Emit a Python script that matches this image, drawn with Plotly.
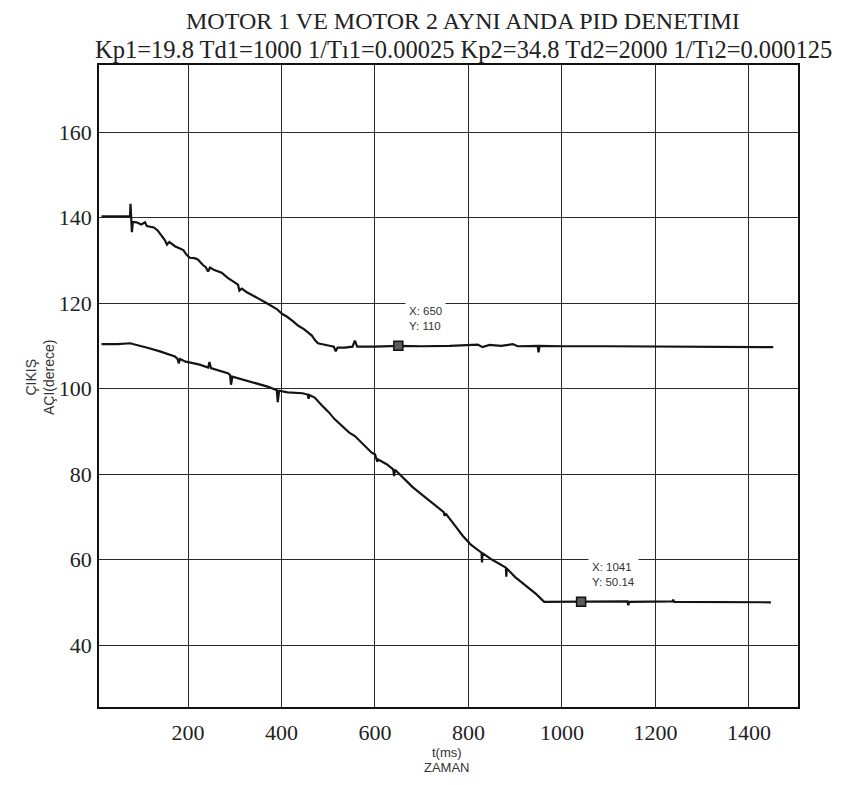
import plotly.graph_objects as go

# ---- data ----
motor1_t = [15, 40, 70, 76, 77, 78, 80, 82, 90, 100, 108, 112, 127, 135, 144, 150, 155, 160,
            172, 182, 190, 197, 204, 214, 221, 232, 238, 243, 247, 255, 272, 285, 298, 307,
            310, 315, 325, 336, 350, 365, 379, 390, 401, 412, 425, 436, 448, 458, 465, 472,
            478, 490, 500, 512, 516, 520, 535, 552, 557, 562, 600, 650, 700, 760, 820, 830,
            845, 870, 895, 905, 948, 950, 952, 1000, 1100, 1200, 1300, 1400, 1452]
motor1_y = [140.3, 140.3, 140.3, 140.3, 143.2, 139.8, 136.6, 139.0, 138.9, 138.4, 138.9, 138.0,
            137.7, 137.0, 135.7, 134.8, 133.7, 134.3, 133.3, 132.8, 132.4, 131.3, 130.6, 130.5,
            130.2, 128.9, 128.4, 127.4, 128.3, 127.8, 127.1, 125.9, 125.0, 124.3, 122.9, 123.4,
            122.6, 122.0, 121.1, 120.2, 119.3, 118.6, 117.5, 116.8, 115.7, 114.7, 113.9, 112.9,
            112.4, 111.3, 110.6, 110.3, 110.0, 109.8, 108.7, 109.6, 109.6, 109.8, 111.2, 109.8,
            109.8, 110.0, 109.9, 110.0, 110.3, 109.7, 110.2, 110.0, 110.4, 109.9, 110.0, 108.5,
            110.0, 109.9, 109.9, 109.8, 109.8, 109.7, 109.7]

motor2_t = [15, 50, 76, 95, 115, 140, 158, 172, 178, 180, 183, 195, 208, 225, 243, 246, 249,
            262, 275, 285, 290, 292, 295, 305, 315, 330, 345, 357, 372, 386, 390, 392, 395,
            413, 430, 445, 456, 458, 460, 471, 485, 500, 514, 530, 545, 557, 575, 593, 600,
            605, 607, 625, 639, 641, 643, 660, 680, 705, 726, 747, 749, 751, 770, 788, 805,
            828, 829, 830, 850, 865, 880, 881, 882, 900, 925, 945, 962, 1000, 1041, 1080,
            1140, 1142, 1144, 1236, 1238, 1240, 1300, 1400, 1447]
motor2_y = [110.4, 110.4, 110.6, 110.1, 109.5, 108.7, 108.0, 107.5, 106.9, 105.9, 106.9, 106.3,
            106.0, 105.6, 104.9, 106.2, 104.8, 104.3, 103.9, 103.6, 103.2, 100.9, 102.8, 102.5,
            102.1, 101.8, 101.2, 101.0, 100.4, 99.8, 99.6, 96.8, 99.5, 99.1, 99.0, 98.9, 98.6,
            97.6, 98.5, 97.9, 96.2, 94.6, 92.8, 91.3, 89.7, 88.9, 86.9, 85.0, 84.6, 82.9, 83.4,
            82.3, 81.1, 79.5, 81.0, 79.2, 77.0, 74.8, 72.9, 71.1, 70.2, 70.8, 68.1, 65.5, 63.5,
            61.6, 59.3, 61.5, 60.0, 59.0, 58.1, 56.0, 57.9, 55.9, 53.8, 51.9, 50.1, 50.1, 50.14,
            50.1, 50.2, 49.3, 50.1, 50.2, 50.6, 50.1, 50.1, 50.0, 50.0]

tip_t = [650, 1041]
tip_y = [110, 50.14]
tip_labels = ["X: 650<br>Y: 110", "X: 1041<br>Y: 50.14"]

x_ticks = [200, 400, 600, 800, 1000, 1200, 1400]
y_ticks = [40, 60, 80, 100, 120, 140, 160]

title_1 = "MOTOR 1 VE MOTOR 2 AYNI ANDA PID DENETIMI"
title_2 = "Kp1=19.8 Td1=1000 1/Tı1=0.00025 Kp2=34.8 Td2=2000 1/Tı2=0.000125"

SERIF = "Liberation Serif, Times New Roman, serif"
SANS = "Liberation Sans, Arial, sans-serif"

# plot-area pixel frame in the page (the page body adds an 8px offset)
PL, PR, PT, PB = 99, 798, 65, 707
PW, PH = PR - PL, PB - PT

fig = go.Figure()
for t, y in [(motor1_t, motor1_y), (motor2_t, motor2_y)]:
    fig.add_trace(go.Scatter(x=t, y=y, mode="lines",
                             line=dict(color="#141414", width=2.2),
                             showlegend=False, hoverinfo="skip"))

fig.add_trace(go.Scatter(x=tip_t, y=tip_y, mode="markers",
                         marker=dict(symbol="square", size=9, color="#5a5a5a",
                                     line=dict(color="#111", width=1.5)),
                         showlegend=False, hoverinfo="skip"))

for t, y, txt in zip(tip_t, tip_y, tip_labels):
    fig.add_annotation(x=t, y=y, xref="x", yref="y", text=txt, showarrow=False,
                       xanchor="left", yanchor="bottom", xshift=7, yshift=10,
                       align="left", bgcolor="white", borderpad=3,
                       font=dict(family=SANS, size=11.5, color="#333"))

def px_x(p):
    return (p - PL) / PW

def px_y(p):
    return (PB - p) / PH

fig.add_annotation(x=px_x(463), y=px_y(21.5), xref="paper", yref="paper",
                   text=title_1, showarrow=False, xanchor="center", yanchor="middle",
                   font=dict(family=SERIF, size=24, color="#222"))
fig.add_annotation(x=px_x(463), y=px_y(49), xref="paper", yref="paper",
                   text=title_2, showarrow=False, xanchor="center", yanchor="middle",
                   font=dict(family=SERIF, size=24.5, color="#222"))

fig.add_annotation(x=px_x(40), y=px_y(378), xref="paper", yref="paper",
                   text="ÇIKIŞ<br>AÇI(derece)", showarrow=False, textangle=-90,
                   xanchor="center", yanchor="middle",
                   font=dict(family=SANS, size=14, color="#333"))
fig.add_annotation(x=px_x(447), y=px_y(752), xref="paper", yref="paper",
                   text="t(ms)", showarrow=False, xanchor="center", yanchor="middle",
                   font=dict(family=SANS, size=13, color="#333"))
fig.add_annotation(x=px_x(447), y=px_y(767), xref="paper", yref="paper",
                   text="ZAMAN", showarrow=False, xanchor="center", yanchor="middle",
                   font=dict(family=SANS, size=13, color="#333"))

axis_common = dict(showgrid=True, gridcolor="#2a2a2a", gridwidth=1.4,
                   showline=True, linecolor="#111", linewidth=1.6, mirror=True,
                   zeroline=False, ticks="",
                   tickfont=dict(family=SERIF, size=22, color="#222"))
fig.update_xaxes(range=[9.6, 1505], tickvals=x_ticks, ticklabelstandoff=5, **axis_common)
fig.update_yaxes(range=[25.5, 175.7], tickvals=y_ticks, ticklabelstandoff=1, **axis_common)

OFF = 8
W, H = 847 - OFF, 785 - OFF
fig.update_layout(width=W, height=H,
                  margin=dict(l=PL - OFF, r=W - (PR - OFF), t=PT - OFF, b=H - (PB - OFF)),
                  paper_bgcolor="white", plot_bgcolor="white")

fig.write_html("out.html")
